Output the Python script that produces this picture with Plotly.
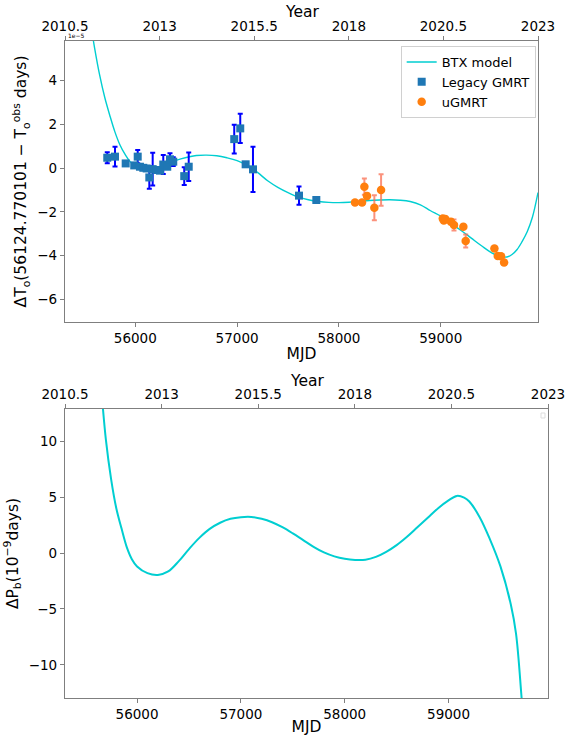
import plotly.graph_objects as go

# ---------------- data ----------------
legacy_mjd = [55725, 55801, 55906, 55990, 56024, 56046, 56079, 56112, 56138, 56171,
              56210, 56243, 56275, 56314, 56341, 56373, 56481, 56525, 56972, 57031,
              57084, 57156, 57608, 57778]
legacy_dt = [0.47, 0.52, 0.21, 0.12, 0.52, 0.06, 0.01, -0.02, -0.43, -0.05,
             -0.09, -0.12, 0.16, 0.06, 0.40, 0.29, -0.37, 0.06, 1.32, 1.81,
             0.17, -0.06, -1.26, -1.46]
legacy_err = [0.25, 0.45, 0.10, 0.10, 0.30, 0.10, 0.10, 0.10, 0.52, 0.75,
              0.10, 0.10, 0.43, 0.10, 0.28, 0.20, 0.40, 0.65, 0.66, 0.67,
              0.10, 1.03, 0.42, 0.10]

ugmrt_mjd = [58158, 58227, 58250, 58276, 58348, 58414, 59020, 59030, 59045, 59100,
             59130, 59222, 59245, 59527, 59560, 59592, 59622]
ugmrt_dt = [-1.57, -1.57, -0.85, -1.28, -1.81, -1.00, -2.30, -2.40, -2.33, -2.45,
            -2.60, -2.68, -3.33, -3.67, -4.02, -4.03, -4.31]
ugmrt_err = [0.08, 0.10, 0.37, 0.12, 0.57, 0.72, 0.10, 0.10, 0.10, 0.12,
             0.25, 0.10, 0.30, 0.10, 0.10, 0.10, 0.10]

# BTX model curve
btx_mjd = [55560, 55600, 55650, 55700, 55750, 55800, 55850, 55900, 55950, 56000,
           56100, 56200, 56300, 56400, 56500, 56600, 56700, 56800, 56900, 57000,
           57100, 57200, 57300, 57400, 57500, 57600, 57700, 57800, 57900, 58000,
           58100, 58200, 58300, 58400, 58500, 58600, 58700, 58800, 58900, 59000,
           59100, 59200, 59300, 59400, 59500, 59600, 59650, 59700, 59750, 59800,
           59850, 59900, 59955]
btx_dt = [6.65, 5.50, 4.25, 3.23, 2.40, 1.65, 1.05, 0.62, 0.29, 0.12,
          -0.02, 0.00, 0.17, 0.35, 0.48, 0.57, 0.59, 0.56, 0.47, 0.34,
          0.12, -0.20, -0.58, -0.88, -1.12, -1.32, -1.45, -1.53, -1.57, -1.58,
          -1.56, -1.52, -1.48, -1.46, -1.45, -1.47, -1.53, -1.68, -1.95, -2.20,
          -2.53, -2.85, -3.20, -3.55, -3.87, -4.05, -4.06, -3.95, -3.72, -3.35,
          -2.90, -2.25, -1.12]

# Delta P_b curve
pb_mjd = [55650, 55700, 55750, 55800, 55850, 55900, 55950, 56000, 56100, 56200,
          56300, 56400, 56500, 56600, 56700, 56800, 56900, 57000, 57100, 57200,
          57300, 57400, 57500, 57600, 57700, 57800, 57900, 58000, 58100, 58200,
          58300, 58400, 58500, 58600, 58700, 58800, 58900, 59000, 59080, 59150,
          59200, 59300, 59400, 59500, 59600, 59650, 59700, 59720]
pb_val = [15.3, 10.1, 6.6, 4.0, 2.2, 0.55, -0.55, -1.2, -1.8, -1.96,
          -1.65, -0.75, 0.35, 1.35, 2.15, 2.70, 3.05, 3.20, 3.22, 3.05,
          2.75, 2.30, 1.75, 1.15, 0.55, 0.05, -0.30, -0.52, -0.62, -0.60,
          -0.35, 0.10, 0.70, 1.45, 2.30, 3.15, 4.00, 4.70, 5.10, 4.95,
          4.60, 3.20, 1.20, -1.20, -4.60, -7.20, -12.5, -15.0]

mjd_ticks = [56000, 57000, 58000, 59000]
year_ticks = [2010.5, 2013, 2015.5, 2018, 2020.5, 2023]
year_labels = ["2010.5", "2013", "2015.5", "2018", "2020.5", "2023"]
dt_ticks = [-6, -4, -2, 0, 2, 4]
pb_ticks = [-10, -5, 0, 5, 10]

# ---------------- figure ----------------
FONT = "DejaVu Sans"
TICKF = dict(family=FONT, size=13.5, color="black")
TITLEF = dict(family=FONT, size=15.5, color="black")
LINEC = "#7f7f7f"

def minus(v):
    s = ("%g" % v)
    return s.replace("-", "\u2212")

fig = go.Figure()

fig.add_trace(go.Scatter(x=btx_mjd, y=btx_dt, mode="lines", name="BTX model",
                         line=dict(color="#00CED1", width=1.4, shape="spline", smoothing=1.0),
                         xaxis="x", yaxis="y"))
fig.add_trace(go.Scatter(x=legacy_mjd, y=legacy_dt, mode="markers", name="Legacy GMRT",
                         marker=dict(symbol="square", size=8, color="#1f77b4"),
                         error_y=dict(type="data", array=legacy_err, color="blue",
                                      thickness=2, width=2.5),
                         xaxis="x", yaxis="y"))
fig.add_trace(go.Scatter(x=ugmrt_mjd, y=ugmrt_dt, mode="markers", name="uGMRT",
                         marker=dict(symbol="circle", size=8.5, color="#ff7f0e"),
                         error_y=dict(type="data", array=ugmrt_err,
                                      color="rgba(250,110,80,0.75)",
                                      thickness=2, width=2.5),
                         xaxis="x", yaxis="y"))
# invisible anchor trace for the top year axis
fig.add_trace(go.Scatter(x=[year_ticks[0], year_ticks[-1]], y=[0, 0], mode="markers",
                         marker=dict(opacity=0), showlegend=False, hoverinfo="skip",
                         xaxis="x3", yaxis="y"))

fig.add_trace(go.Scatter(x=pb_mjd, y=pb_val, mode="lines", showlegend=False,
                         line=dict(color="#00CED1", width=2, shape="spline", smoothing=1.0),
                         xaxis="x2", yaxis="y2"))
fig.add_trace(go.Scatter(x=[year_ticks[0], year_ticks[-1]], y=[0, 0], mode="markers",
                         marker=dict(opacity=0), showlegend=False, hoverinfo="skip",
                         xaxis="x4", yaxis="y2"))

common = dict(showgrid=False, zeroline=False, showline=True, linecolor=LINEC,
              linewidth=1.2, ticks="outside", ticklen=4, tickwidth=1.2,
              tickcolor=LINEC, tickfont=TICKF, automargin=False)

xdom1 = [65 / 576, 538 / 576]
xdom2 = [65 / 576, 548 / 576]
ydom1 = [1 - 322 / 736, 1 - 41 / 736]
ydom2 = [1 - 698 / 736, 1 - 409 / 736]

fig.update_layout(
    template="none",
    width=576, height=736,
    margin=dict(l=0, r=0, t=0, b=0, autoexpand=False),
    paper_bgcolor="white", plot_bgcolor="white",
    font=dict(family=FONT, color="black"),
    xaxis=dict(domain=xdom1, anchor="y", range=[55310, 59955], tickvals=mjd_ticks,
               ticktext=[str(t) for t in mjd_ticks], mirror=True,
               title=dict(text="MJD", font=TITLEF, standoff=2), **common),
    xaxis3=dict(overlaying="x", side="top", anchor="y", range=[2010.5, 2023],
                tickvals=year_ticks, ticktext=year_labels, **common),
    yaxis=dict(domain=ydom1, anchor="x", range=[-7.03, 5.8], tickvals=dt_ticks,
               ticktext=[minus(t) for t in dt_ticks], mirror=True,
               title=dict(text="\u0394T<sub>o</sub>(56124.770101 \u2212 T<sub>o</sub><sup>obs</sup> days)",
                          font=TITLEF, standoff=6), **common),
    xaxis2=dict(domain=xdom2, anchor="y2", range=[55306, 59958], tickvals=mjd_ticks,
                ticktext=[str(t) for t in mjd_ticks], mirror=True,
                title=dict(text="MJD", font=TITLEF, standoff=2), **common),
    xaxis4=dict(overlaying="x2", side="top", anchor="y2", range=[2010.5, 2023],
                tickvals=year_ticks, ticktext=year_labels, **common),
    yaxis2=dict(domain=ydom2, anchor="x2", range=[-12.95, 12.86], tickvals=pb_ticks,
                ticktext=[minus(t) for t in pb_ticks], mirror=True,
                title=dict(text="\u0394P<sub>b</sub>(10<sup>\u22129</sup>days)",
                           font=TITLEF, standoff=6), **common),
    legend=dict(x=0.93, xanchor="right", y=1 - 46 / 736, yanchor="top",
                bgcolor="rgba(255,255,255,0.85)", bordercolor="#d0d0d0", borderwidth=1,
                font=dict(family=FONT, size=13, color="black"),
                tracegroupgap=0, itemwidth=30),
    showlegend=True,
)

# "Year" titles of the top axes
fig.add_annotation(text="Year", xref="paper", yref="paper", x=(xdom1[0] + xdom1[1]) / 2,
                   y=1 - 12 / 736, xanchor="center", yanchor="middle", showarrow=False,
                   font=TITLEF)
fig.add_annotation(text="Year", xref="paper", yref="paper", x=(xdom2[0] + xdom2[1]) / 2,
                   y=1 - 381 / 736, xanchor="center", yanchor="middle", showarrow=False,
                   font=TITLEF)
# axis offset text
fig.add_annotation(text="1e\u22125", xref="paper", yref="paper", x=66 / 576, y=1 - 41 / 736,
                   xanchor="left", yanchor="bottom", showarrow=False,
                   font=dict(family=FONT, size=6, color="black"))
fig.add_shape(type="rect", xref="paper", yref="paper",
              x0=541 / 576, x1=545 / 576, y0=1 - 418 / 736, y1=1 - 413 / 736,
              line=dict(color="#dddddd", width=1), fillcolor="white")

fig.write_html("out.html", config={"displayModeBar": False},
               post_script="document.body.style.margin='0';document.body.style.overflow='hidden';")
